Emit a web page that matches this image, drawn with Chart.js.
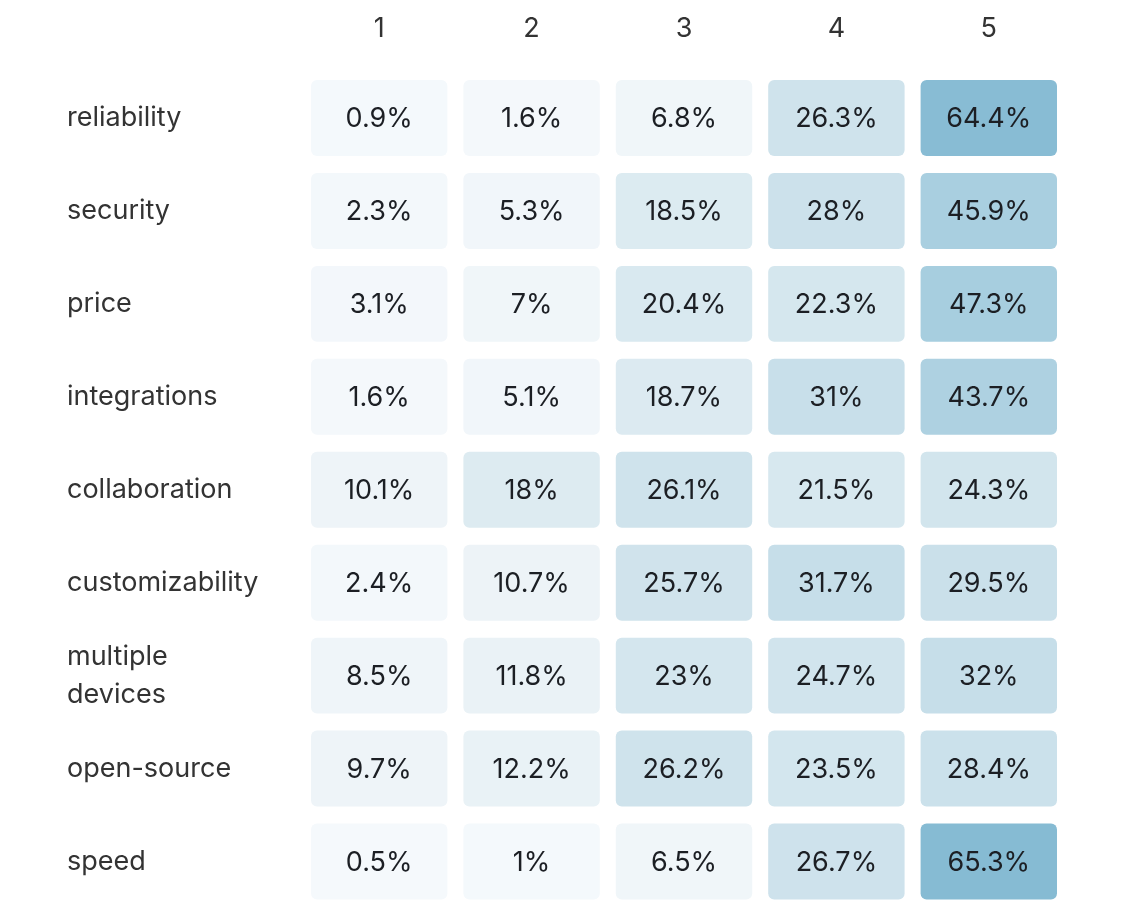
<!DOCTYPE html>
<html>
<head>
<meta charset="utf-8">
<script src="https://cdn.jsdelivr.net/npm/chart.js@4"></script>
<style>
  html, body { margin: 0; padding: 0; background: #ffffff; }
  #wrap { width: 1122px; height: 920px; }
</style>
</head>
<body>
<div id="wrap"><canvas id="c" width="1122" height="920"></canvas></div>
<script>
// ---- data ----
const ratings = ['1', '2', '3', '4', '5'];
const features = ['reliability', 'security', 'price', 'integrations', 'collaboration',
  'customizability', ['multiple', 'devices'], 'open-source', 'speed'];
const score1 = [0.9, 2.3, 3.1, 1.6, 10.1, 2.4, 8.5, 9.7, 0.5];
const score2 = [1.6, 5.3, 7, 5.1, 18, 10.7, 11.8, 12.2, 1];
const score3 = [6.8, 18.5, 20.4, 18.7, 26.1, 25.7, 23, 26.2, 6.5];
const score4 = [26.3, 28, 22.3, 31, 21.5, 31.7, 24.7, 23.5, 26.7];
const score5 = [64.4, 45.9, 47.3, 43.7, 24.3, 29.5, 32, 28.4, 65.3];
const scoreSeries = [score1, score2, score3, score4, score5];

// ---- build points ----
const points = [];
scoreSeries.forEach((arr, ci) => {
  arr.forEach((v, ri) => {
    points.push({ x: ratings[ci], y: ri, v: v });
  });
});

// colour ramp (styling)
const ramp = [
  [0, [245, 249, 252]],
  [10, [238, 244, 248]],
  [18, [221, 235, 241]],
  [26, [207, 227, 236]],
  [32, [198, 222, 233]],
  [46, [169, 207, 224]],
  [65.3, [134, 187, 211]]
];
function cellColor(v) {
  for (let i = 1; i < ramp.length; i++) {
    if (v <= ramp[i][0] || i === ramp.length - 1) {
      const [a, ca] = ramp[i - 1], [b, cb] = ramp[i];
      const t = Math.min(1, Math.max(0, (v - a) / (b - a)));
      const c = ca.map((x, k) => Math.round(x + (cb[k] - x) * t));
      return `rgb(${c[0]},${c[1]},${c[2]})`;
    }
  }
}

const FONT = 'Inter, "Noto Sans", sans-serif';

const heatPlugin = {
  id: 'heat',
  beforeDatasetsDraw(chart) {
    const ctx = chart.ctx;
    const xs = chart.scales.x, ys = chart.scales.y;
    const cw = (xs.right - xs.left) / ratings.length;
    const ch = (ys.bottom - ys.top) / features.length;
    const gapX = 16, gapY = 17;
    const meta = chart.getDatasetMeta(0);
    ctx.save();
    chart.data.datasets[0].data.forEach((p, i) => {
      const el = meta.data[i];
      const cx = el.x, cy = el.y;
      const w = cw - gapX, h = ch - gapY;
      ctx.fillStyle = cellColor(p.v);
      ctx.beginPath();
      ctx.roundRect(cx - w / 2, cy - h / 2, w, h, 6);
      ctx.fill();
      ctx.fillStyle = '#1c1f24';
      ctx.font = '27px ' + FONT;
      ctx.textAlign = 'center';
      ctx.textBaseline = 'middle';
      ctx.fillText(p.v + '%', cx, cy + 1);
    });
    ctx.restore();
  }
};

new Chart(document.getElementById('c'), {
  type: 'scatter',
  data: {
    datasets: [{
      data: points,
      pointRadius: 0,
      pointHoverRadius: 0,
      parsing: { xAxisKey: 'x', yAxisKey: 'y' }
    }]
  },
  options: {
    responsive: false,
    animation: false,
    layout: { padding: { left: 67, right: 57, top: 12, bottom: 12 } },
    plugins: { legend: { display: false }, tooltip: { enabled: false } },
    events: [],
    scales: {
      x: {
        type: 'category',
        labels: ratings,
        position: 'top',
        offset: true,
        grid: { display: false, drawTicks: false },
        border: { display: false },
        ticks: { color: '#333333', font: { family: FONT, size: 27 }, padding: 26 },
        afterFit(scale) { scale.height = 59.5; scale.paddingLeft = 0; scale.paddingRight = 0; }
      },
      y: {
        type: 'linear',
        min: -0.5,
        max: features.length - 0.5,
        reverse: true,
        grid: { display: false, drawTicks: false },
        border: { display: false },
        afterBuildTicks(scale) {
          scale.ticks = features.map((f, i) => ({ value: i }));
        },
        ticks: {
          color: '#333333',
          font: { family: FONT, size: 27, lineHeight: 1.4 },
          crossAlign: 'far',
          autoSkip: false,
          callback(value) { return features[value]; }
        },
        afterFit(scale) { scale.width = 236; scale.paddingTop = 0; scale.paddingBottom = 0; }
      }
    }
  },
  plugins: [heatPlugin]
});
</script>
</body>
</html>
